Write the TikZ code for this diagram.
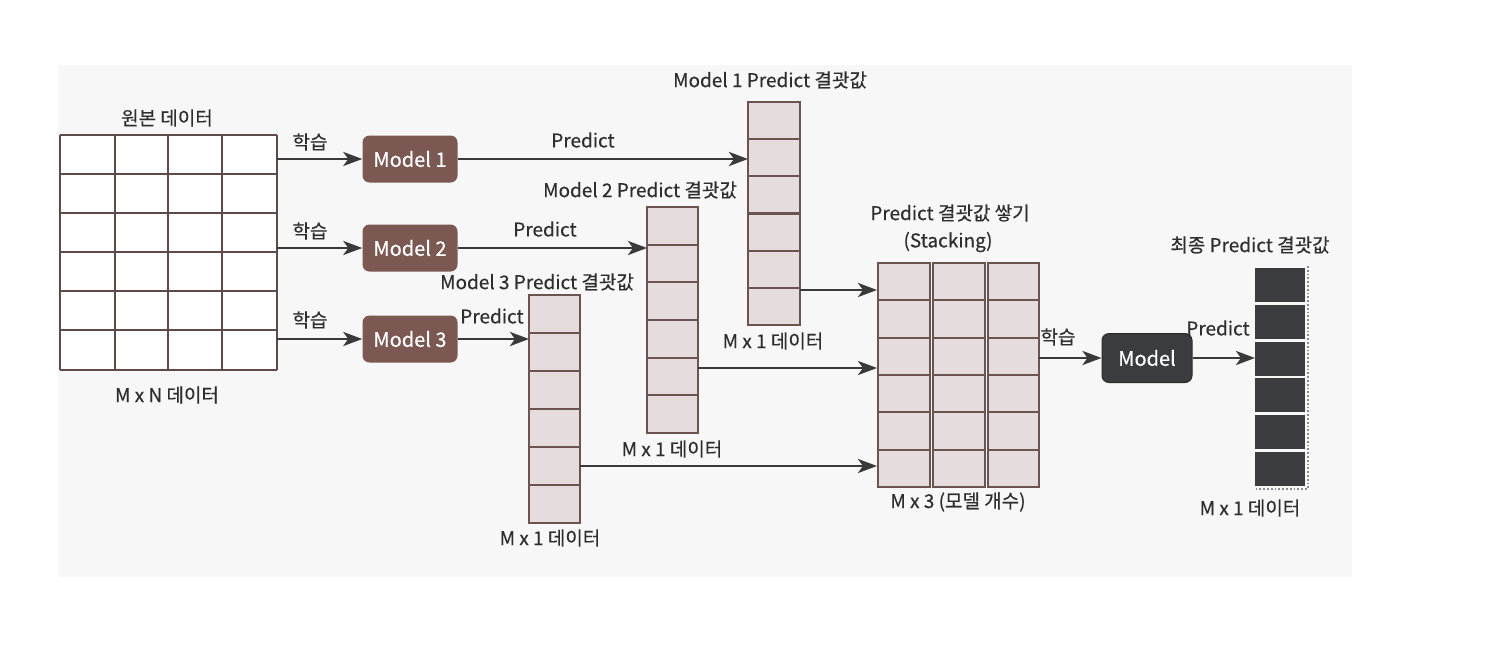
\documentclass[tikz,border=0pt]{standalone}
\usepackage{fontspec}
\setmainfont{Noto Sans CJK KR}[FakeBold=0.4]
\usetikzlibrary{arrows.meta,calc}
\definecolor{pagebg}{HTML}{F8F7F8}
\definecolor{gridline}{HTML}{5C4B48}
\definecolor{cellfill}{HTML}{E5DDDD}
\definecolor{celldraw}{HTML}{6B5450}
\definecolor{brownbox}{HTML}{7B5851}
\definecolor{darkbox}{HTML}{3B3C40}
\definecolor{arrowc}{HTML}{3A3A3A}
\definecolor{txt}{HTML}{2E2E2E}
\tikzset{
  lbl/.style={text=txt, font=\fontsize{19}{22}\selectfont, inner sep=0pt},
  modelbox/.style={rounded corners=7pt, fill=brownbox, text=white, font=\fontsize{20}{23}\selectfont, minimum width=95pt, minimum height=47pt, inner sep=0pt},
  finalbox/.style={modelbox, fill=darkbox, draw=darkbox!70!black, line width=1pt},
  arr/.style={draw=arrowc, line width=2.8pt, -{Stealth[length=19pt,width=14pt,inset=5pt]}},
  cellst/.style={fill=cellfill, draw=celldraw, line width=2.2pt},
  area/.style={minimum width=#1, inner sep=0pt, outer sep=0pt},
}
\begin{document}
\begin{tikzpicture}[x=1pt,y=-1pt]
\useasboundingbox (0,0) rectangle (1490,645);
\fill[pagebg] (58,65) rectangle (1352,577);

% ---- original data grid
\node[area=217pt, minimum height=235pt, fill=white] (grid) at (168.5,252.5) {};
\foreach \x in {60,115,168,222,277} \draw[gridline, line width=2.4pt] (\x,135) -- (\x,370);
\foreach \y in {135,174,213,252,291,330,370} \draw[gridline, line width=2.4pt] (60,\y) -- (277,\y);
\node[lbl] (tOrig) at (167,118) {원본 데이터};
\node[lbl] (tMN) at (167,395) {M x N 데이터};

% ---- models
\node[modelbox] (m1) at (410,159) {Model 1};
\node[modelbox] (m2) at (410,248) {Model 2};
\node[modelbox] (m3) at (410,339) {Model 3};

\node[lbl] (l1) at (310,142) {학습};
\node[lbl] (l2) at (310,231) {학습};
\node[lbl] (l3) at (310,320) {학습};
\draw[arr] (grid.east |- m1) -- (m1.west);
\draw[arr] (grid.east |- m2) -- (m2.west);
\draw[arr] (grid.east |- m3) -- (m3.west);

% ---- prediction columns
\node[area=52pt, minimum height=223pt] (c1) at (774,213.5) {};
\foreach \i in {0,...,5} \draw[cellst] (748,{102+\i*37.17}) rectangle (800,{102+(\i+1)*37.17});
\node[area=51pt, minimum height=226pt] (c2) at (672.5,320) {};
\foreach \i in {0,...,5} \draw[cellst] (647,{207+\i*37.67}) rectangle (698,{207+(\i+1)*37.67});
\node[area=51pt, minimum height=228pt] (c3) at (554.5,409) {};
\foreach \i in {0,...,5} \draw[cellst] (529,{295+\i*38}) rectangle (580,{295+(\i+1)*38});

\node[lbl] (h1) at (770,80) {Model 1 Predict 결괏값};
\node[lbl] (h2) at (640,190) {Model 2 Predict 결괏값};
\node[lbl] (h3) at (537,282) {Model 3 Predict 결괏값};
\node[lbl] (b1) at (773,341) {M x 1 데이터};
\node[lbl] (b2) at (672,449) {M x 1 데이터};
\node[lbl] (b3) at (550,538) {M x 1 데이터};

\node[lbl] (p1) at (583,140) {Predict};
\node[lbl] (p2) at (545,229) {Predict};
\node[lbl] (p3) at (492,316) {Predict};
\draw[arr] (m1.east) -- (c1.west |- m1);
\draw[arr] (m2.east) -- (c2.west |- m2);
\draw[arr] (m3.east) -- (c3.west |- m3);

% ---- stacked matrix
\node[area=162pt, minimum height=224pt] (stack) at (958,375) {};
\foreach \x/\w in {878/930,933/985,988/1039}
  \foreach \i in {0,...,5} \draw[cellst] (\x,{263+\i*37.33}) rectangle (\w,{263+(\i+1)*37.33});
\node[lbl] (hs1) at (950,213) {Predict 결괏값 쌓기};
\node[lbl] (hs2) at (948,242) {(Stacking)};
\node[lbl] (bs) at (958,502) {M x 3 (모델 개수)};

\coordinate (s1) at (0,290);
\coordinate (s2) at (0,368);
\coordinate (s3) at (0,466);
\draw[arr] (c1.east |- s1) -- (stack.west |- s1);
\draw[arr] (c2.east |- s2) -- (stack.west |- s2);
\draw[arr] (c3.east |- s3) -- (stack.west |- s3);

% ---- final model
\node[finalbox, minimum width=90pt, minimum height=49pt] (mf) at (1147,358) {Model};
\node[lbl] (lf) at (1058,337) {학습};
\draw[arr] (stack.east |- mf) -- (mf.west);

% ---- final column
\node[area=50pt, minimum height=220pt] (fc) at (1280,377) {};
\foreach \i in {0,...,5} \fill[darkbox] (1255,{267+\i*36.67+1.3}) rectangle (1305,{267+(\i+1)*36.67-1.3});
\draw[darkbox!60!white, line width=1.8pt, dotted] (1308,266) -- (1308,489) -- (1255,489);
\node[lbl] (hf) at (1250,245) {최종 Predict 결괏값};
\node[lbl] (bf) at (1250,508) {M x 1 데이터};
\node[lbl] (pf) at (1218,328) {Predict};
\draw[arr] (mf.east) -- (fc.west |- mf);
\end{tikzpicture}
\end{document}
